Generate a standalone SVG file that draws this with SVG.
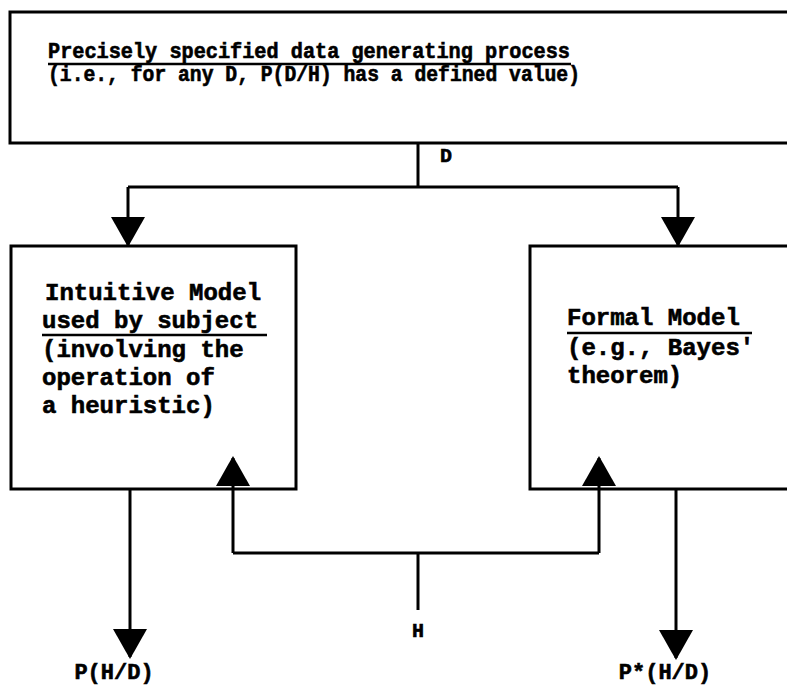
<svg xmlns="http://www.w3.org/2000/svg" width="787" height="686" viewBox="0 0 787 686">
<style>
.box{fill:none;stroke:#000;stroke-width:3}
.ln{fill:none;stroke:#000;stroke-width:3}
.t{font-family:"Liberation Mono","Courier New",monospace;font-weight:bold;fill:#000;stroke:#000;stroke-width:0.6}
.u{stroke:#000;stroke-width:2.5}
</style>
<defs>
<marker id="ah" viewBox="0 0 30 34" refX="28" refY="17" markerWidth="30" markerHeight="34" markerUnits="userSpaceOnUse" orient="auto">
<path d="M0,0 L30,17 L0,34 Z" fill="#000"/>
</marker>
</defs>
<rect x="0" y="0" width="787" height="686" fill="#fff"/>
<g id="process">
<rect class="box" x="10" y="12" width="800" height="131"/>
<text class="t" x="48" y="58" font-size="21.5" textLength="522" lengthAdjust="spacingAndGlyphs">Precisely specified data generating process</text>
<line class="u" x1="48" y1="64" x2="571" y2="64"/>
<text class="t" x="48" y="81" font-size="21.5" textLength="532" lengthAdjust="spacingAndGlyphs">(i.e., for any D, P(D/H) has a defined value)</text>
</g>
<g id="intuitive">
<rect class="box" x="11" y="246" width="285" height="243"/>
<text class="t" font-size="24">
<tspan x="45" y="300">Intuitive Model</tspan>
<tspan x="42" y="328">used by subject</tspan>
<tspan x="42" y="357">(involving the</tspan>
<tspan x="42" y="385">operation of</tspan>
<tspan x="42" y="413">a heuristic)</tspan>
</text>
<line class="u" x1="42" y1="335" x2="267" y2="335"/>
</g>
<g id="formal">
<rect class="box" x="530" y="246" width="280" height="243"/>
<text class="t" font-size="24">
<tspan x="567" y="325">Formal Model</tspan>
<tspan x="567" y="355">(e.g., Bayes'</tspan>
<tspan x="567" y="383">theorem)</tspan>
</text>
<line class="u" x1="567" y1="333" x2="752" y2="333"/>
</g>
<g id="connectors">
<polyline class="ln" points="418,143 418,187"/>
<polyline class="ln" points="128,187 678,187"/>
<line class="ln" x1="128" y1="187" x2="128" y2="245" marker-end="url(#ah)"/>
<line class="ln" x1="678" y1="187" x2="678" y2="245" marker-end="url(#ah)"/>
<line class="ln" x1="130" y1="489" x2="130" y2="657" marker-end="url(#ah)"/>
<line class="ln" x1="676" y1="489" x2="676" y2="658" marker-end="url(#ah)"/>
<line class="ln" x1="233" y1="553" x2="233" y2="458" marker-end="url(#ah)"/>
<line class="ln" x1="599" y1="553" x2="599" y2="458" marker-end="url(#ah)"/>
<polyline class="ln" points="233,553 599,553"/>
<polyline class="ln" points="418,553 418,610"/>
</g>
<g id="labels">
<text class="t" x="440" y="162" font-size="20">D</text>
<text class="t" x="418" y="637" font-size="20" text-anchor="middle">H</text>
<text class="t" x="114" y="679" font-size="22" text-anchor="middle">P(H/D)</text>
<text class="t" x="665" y="679" font-size="22" text-anchor="middle">P*(H/D)</text>
</g>
</svg>
